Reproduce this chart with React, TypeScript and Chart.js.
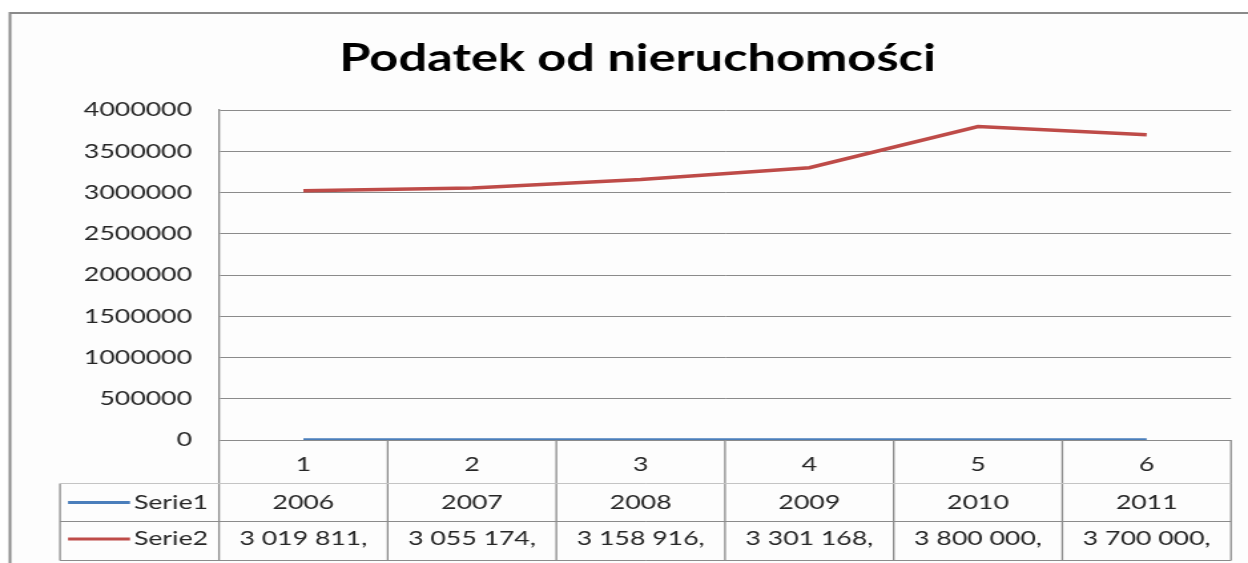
import React, { useEffect, useRef } from 'react';
import { Chart, registerables } from 'chart.js';

Chart.register(...registerables);

// ---- data ----
const chartTitle = 'Podatek od nieruchomości';
const categories = ['1', '2', '3', '4', '5', '6'];
const seriesNames = ['Serie1', 'Serie2'];
const serie1 = [2006, 2007, 2008, 2009, 2010, 2011];
const serie2 = [3019811, 3055174, 3158916, 3301168, 3800000, 3700000];
const yMin = 0;
const yMax = 4000000;
const yStep = 500000;

const seriesColors = ['#4a7ebb', '#be4b48'];

const groupDigits = (v: number) => String(Math.trunc(v)).replace(/\B(?=(\d{3})+(?!\d))/g, ' ');
const serie1Cells = serie1.map((v) => String(v));
const serie2Cells = serie2.map((v) => groupDigits(v) + ',');
const tableRows = [
  { name: seriesNames[0], color: seriesColors[0], cells: serie1Cells },
  { name: seriesNames[1], color: seriesColors[1], cells: serie2Cells },
];

// ---- layout (the picture is horizontally stretched) ----
const OUT_W = 1248;
const H = 563;
const W = 938;
const SX = OUT_W / W;
const px = (x: number) => x / SX;

const FONT = 'Lato, "Open Sans", "DejaVu Sans", sans-serif';
const GRID = '#8b8b8b';
const TEXT = '#262626';

const framePlugin = {
  id: 'frame',
  beforeDraw(chart: any) {
    const ctx = chart.ctx;
    ctx.save();
    ctx.fillStyle = '#ffffff';
    ctx.fillRect(0, 0, chart.width, chart.height);
    ctx.fillStyle = '#fdfdfd';
    ctx.fillRect(px(10), 13, chart.width, chart.height);
    ctx.strokeStyle = '#8a8a8a';
    ctx.lineWidth = 2;
    ctx.beginPath();
    ctx.moveTo(px(10), H + 5);
    ctx.lineTo(px(10), 13);
    ctx.lineTo(chart.width + 5, 13);
    ctx.stroke();
    ctx.restore();
  },
};

const tablePlugin = {
  id: 'dataTable',
  afterDraw(chart: any) {
    const { ctx, chartArea } = chart;
    const n = categories.length;
    const left = chartArea.left;
    const right = chartArea.right;
    const colW = (right - left) / n;
    const top = chartArea.bottom;
    const yRow2 = Math.round(top + 43) + 0.5;
    const yRow3 = Math.round(top + 81) + 0.5;
    const yEnd = Math.round(top + 120) + 0.5;
    const legL = px(60);

    ctx.save();
    // vertical column lines
    ctx.strokeStyle = GRID;
    ctx.lineWidth = 1.3;
    for (let k = 0; k <= n; k++) {
      const x = left + k * colW;
      ctx.beginPath();
      ctx.moveTo(x, top);
      ctx.lineTo(x, yEnd);
      ctx.stroke();
    }
    ctx.beginPath();
    ctx.moveTo(legL, yRow2);
    ctx.lineTo(legL, yEnd);
    ctx.stroke();

    // horizontal lines
    ctx.lineWidth = 1;
    ctx.strokeStyle = '#c4c4c4';
    ctx.beginPath();
    ctx.moveTo(legL, yRow2);
    ctx.lineTo(right, yRow2);
    ctx.stroke();
    ctx.strokeStyle = GRID;
    ctx.beginPath();
    ctx.moveTo(legL, yRow3);
    ctx.lineTo(right, yRow3);
    ctx.moveTo(legL, yEnd);
    ctx.lineTo(right, yEnd);
    ctx.stroke();

    // rows
    ctx.font = `20px ${FONT}`;
    ctx.textBaseline = 'middle';
    tableRows.forEach((row, r) => {
      const yc = r === 0 ? top + 62.5 : top + 99;
      ctx.strokeStyle = row.color;
      ctx.lineWidth = 3;
      ctx.beginPath();
      ctx.moveTo(px(68), yc);
      ctx.lineTo(px(130), yc);
      ctx.stroke();
      ctx.fillStyle = TEXT;
      ctx.textAlign = 'left';
      ctx.fillText(row.name, px(134), yc);
      ctx.textAlign = 'center';
      row.cells.forEach((c, i) => {
        ctx.fillText(c, left + (i + 0.5) * colW, yc);
      });
    });
    ctx.restore();
  },
};

export default function App() {
  const ref = useRef<HTMLCanvasElement | null>(null);

  useEffect(() => {
    if (!ref.current) return;
    const chart = new Chart(ref.current, {
      type: 'line',
      data: {
        labels: categories,
        datasets: [
          {
            label: seriesNames[0],
            data: serie1,
            borderColor: seriesColors[0],
            backgroundColor: seriesColors[0],
            borderWidth: 3,
            pointRadius: 0,
            tension: 0,
          },
          {
            label: seriesNames[1],
            data: serie2,
            borderColor: seriesColors[1],
            backgroundColor: seriesColors[1],
            borderWidth: 3.5,
            pointRadius: 0,
            tension: 0,
          },
        ],
      },
      options: {
        responsive: false,
        animation: false,
        devicePixelRatio: 1,
        layout: { padding: { left: 33, right: W - px(1231), top: 0, bottom: 0 } },
        plugins: {
          legend: { display: false },
          tooltip: { enabled: false },
          title: {
            display: true,
            text: chartTitle,
            color: '#000000',
            font: { family: FONT, size: 38, weight: 'bold', lineHeight: 1.2 },
            padding: { top: 36, bottom: 28.4 },
          },
        },
        scales: {
          x: {
            offset: true,
            grid: { display: false, drawTicks: false },
            border: { display: false },
            ticks: { color: TEXT, padding: 13, font: { family: FONT, size: 20 } },
            afterFit: (s: any) => {
              s.height = 123;
            },
          },
          y: {
            min: yMin,
            max: yMax,
            grid: { color: GRID, drawTicks: false, lineWidth: 1 },
            border: { display: true, color: GRID, width: 1.3 },
            ticks: {
              stepSize: yStep,
              color: TEXT,
              padding: px(219) - px(192),
              font: { family: FONT, size: 20 },
              callback: (v: any) => String(v),
            },
            afterFit: (s: any) => {
              s.width = px(219) - 33;
            },
          },
        },
      },
      plugins: [framePlugin, tablePlugin],
    } as any);
    return () => chart.destroy();
  }, []);

  return (
    <div
      style={{
        position: 'absolute',
        left: 0,
        top: 0,
        width: W,
        height: H,
        transform: `scaleX(${SX})`,
        transformOrigin: '0 0',
      }}
    >
      <canvas ref={ref} width={W} height={H} style={{ display: 'block' }} />
    </div>
  );
}
